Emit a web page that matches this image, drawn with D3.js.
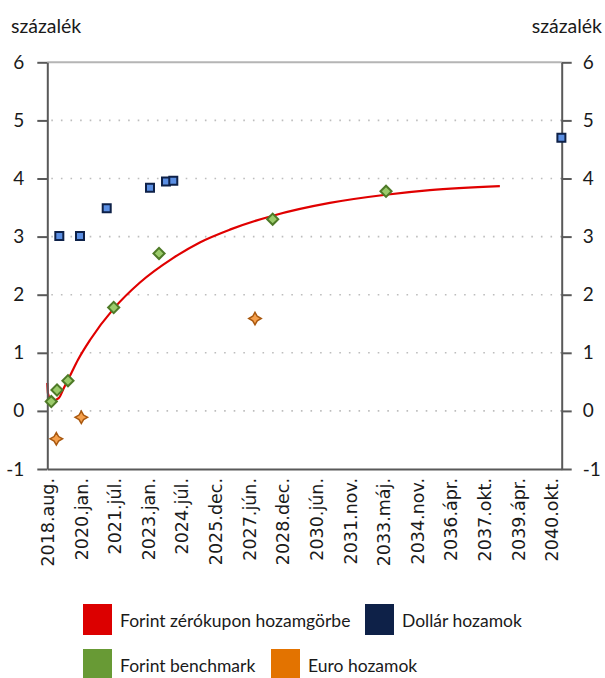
<!DOCTYPE html>
<html>
<head>
<meta charset="utf-8">
<script src="https://cdn.jsdelivr.net/npm/d3@7"></script>
<style>
  html, body { margin: 0; padding: 0; background: #fff; }
  svg { display: block; }
  .htext { font-family: Lato, "Open Sans", sans-serif; fill: #1a1a1a; }
  .xlab { font-family: "DejaVu Sans", sans-serif; fill: #1a1a1a; }
</style>
</head>
<body>
<svg id="chart" width="605" height="678"></svg>
<script>
// ---------------- DATA ----------------
const yAxisTitle = "százalék";
const yTicks = [-1, 0, 1, 2, 3, 4, 5, 6];
const xTickLabels = ["2018.aug.", "2020.jan.", "2021.júl.", "2023.jan.", "2024.júl.", "2025.dec.",
  "2027.jún.", "2028.dec.", "2030.jún.", "2031.nov.", "2033.máj.", "2034.nov.", "2036.ápr.",
  "2037.okt.", "2039.ápr.", "2040.okt."];
const xStart = "2018-08-03";
const xEnd = "2041-03-15";
const xTickStepDays = 540;

// Forint zérókupon hozamgörbe (line)
const curveDates = ["2018-08-03", "2018-08-14", "2018-10-17", "2019-02-02", "2019-04-28", "2019-08-23",
  "2019-12-09", "2020-06-19", "2021-07-04", "2022-08-30", "2024-02-11", "2025-04-17", "2026-08-12",
  "2028-07-02", "2031-01-04", "2033-06-21", "2035-05-29", "2038-06-26"];
const curveValues = [0.48, 0.30, 0.17, 0.22, 0.40, 0.65, 0.88, 1.22, 1.76, 2.21, 2.63, 2.90, 3.12,
  3.36, 3.58, 3.72, 3.80, 3.87];

// Forint benchmark (diamonds)
const benchDates = ["2018-10-06", "2019-01-06", "2019-07-01", "2021-07-04", "2023-07-02", "2028-06-30", "2033-06-24"];
const benchValues = [0.16, 0.36, 0.52, 1.78, 2.71, 3.30, 3.78];

// Dollár hozamok (squares)
const usdDates = ["2019-02-12", "2020-01-10", "2021-03-14", "2023-02-07", "2023-10-22", "2024-02-16", "2041-03-10"];
const usdValues = [3.01, 3.01, 3.49, 3.84, 3.95, 3.96, 4.70];

// Euro hozamok (4-point stars)
const eurDates = ["2018-12-26", "2020-01-31", "2027-09-20"];
const eurValues = [-0.48, -0.11, 1.59];

const legendLabels = ["Forint zérókupon hozamgörbe", "Dollár hozamok", "Forint benchmark", "Euro hozamok"];
const legendColors = ["#dc0000", "#0e2148", "#689a35", "#e37300"];

// ---------------- CHART ----------------
(function () {
const parse = d3.timeParse("%Y-%m-%d");
const svg = d3.select("#chart");

const pL = 47.3, pR = 561.7, pT = 62.3, pB = 469;
const x = d3.scaleTime().domain([parse(xStart), parse(xEnd)]).range([pL, pR]);
const y = d3.scaleLinear().domain([-1, 6]).range([pB, pT]);

const tickDates = xTickLabels.map((_, i) => d3.timeDay.offset(parse(xStart), i * xTickStepDays));

// gridlines (dotted)
svg.append("g").selectAll("line")
  .data(yTicks.filter(v => v > -1 && v < 6))
  .join("line")
  .attr("x1", pL + 4).attr("x2", pR)
  .attr("y1", d => y(d)).attr("y2", d => y(d))
  .attr("stroke", "#bdbdbd").attr("stroke-width", 1.6)
  .attr("stroke-dasharray", "1.6,8");

// top border
svg.append("line")
  .attr("x1", pL).attr("x2", pR)
  .attr("y1", y(6)).attr("y2", y(6))
  .attr("stroke", "#b5b5b5").attr("stroke-width", 2);

// line series
const line = d3.line()
  .x((d, i) => x(parse(curveDates[i])))
  .y(d => y(d))
  .curve(d3.curveMonotoneX);
svg.append("path")
  .datum(curveValues)
  .attr("d", line)
  .attr("fill", "none")
  .attr("stroke", "#e00000")
  .attr("stroke-width", 2.2);

// axes
const axisColor = "#595959";
const fmt = d => String(d);
const gL = svg.append("g").attr("transform", `translate(${pL},0)`)
  .call(d3.axisLeft(y).tickValues(yTicks).tickSize(10).tickSizeOuter(0).tickPadding(13).tickFormat(fmt));
const gR = svg.append("g").attr("transform", `translate(${pR},0)`)
  .call(d3.axisRight(y).tickValues(yTicks).tickSize(10).tickSizeOuter(0).tickPadding(11).tickFormat(fmt));
const gB = svg.append("g").attr("transform", `translate(0,${pB})`)
  .call(d3.axisBottom(x).tickValues(tickDates).tickSize(0).tickSizeOuter(0)
    .tickFormat((d, i) => xTickLabels[i]));

[gL, gR, gB].forEach(g => {
  g.attr("font-family", null).attr("font-size", null);
  g.select(".domain").attr("stroke", axisColor).attr("stroke-width", 2);
  g.selectAll(".tick line").attr("stroke", axisColor).attr("stroke-width", 2);
});
[gL, gR].forEach(g => {
  g.selectAll(".tick text").attr("class", "htext").attr("font-size", 19).attr("fill", "#1a1a1a");
});
gB.selectAll(".tick text")
  .attr("class", "xlab")
  .attr("font-size", 17.5)
  .attr("fill", "#1a1a1a")
  .attr("transform", "rotate(-90)")
  .attr("x", -9)
  .attr("y", 0)
  .attr("dy", "0.35em")
  .attr("text-anchor", "end");

// axis titles
svg.append("text").attr("class", "htext").attr("x", 11).attr("y", 33)
  .attr("font-size", 19.5).text(yAxisTitle);
svg.append("text").attr("class", "htext").attr("x", 602).attr("y", 33)
  .attr("font-size", 19.5).attr("text-anchor", "end").text(yAxisTitle);

// markers: diamonds (benchmark)
const diamond = d3.symbol().type(d3.symbolSquare).size(62);
svg.append("g").selectAll("path")
  .data(benchValues)
  .join("path")
  .attr("d", diamond)
  .attr("transform", (d, i) => `translate(${x(parse(benchDates[i]))},${y(d)}) rotate(45)`)
  .attr("fill", "#9bcb6b").attr("stroke", "#4e7a27").attr("stroke-width", 2);

// markers: squares (USD)
const square = d3.symbol().type(d3.symbolSquare).size(64);
svg.append("g").selectAll("path")
  .data(usdValues)
  .join("path")
  .attr("d", square)
  .attr("transform", (d, i) => `translate(${x(parse(usdDates[i]))},${y(d)})`)
  .attr("fill", "#5b8fe3").attr("stroke", "#0e2148").attr("stroke-width", 2);

// markers: 4-point stars (EUR)
const star4 = {
  draw(ctx, size) {
    const r = Math.sqrt(size) / 2, k = r * 0.36;
    ctx.moveTo(0, -r); ctx.lineTo(k, -k); ctx.lineTo(r, 0); ctx.lineTo(k, k);
    ctx.lineTo(0, r); ctx.lineTo(-k, k); ctx.lineTo(-r, 0); ctx.lineTo(-k, -k); ctx.closePath();
  }
};
svg.append("g").selectAll("path")
  .data(eurValues)
  .join("path")
  .attr("d", d3.symbol().type(star4).size(156))
  .attr("transform", (d, i) => `translate(${x(parse(eurDates[i]))},${y(d)})`)
  .attr("fill", "#f5a04c").attr("stroke", "#a9580f").attr("stroke-width", 1.5);

// legend
const legendPos = [[83, 604], [365, 604], [83, 649], [271, 649]];
const lg = svg.append("g").selectAll("g")
  .data(legendLabels)
  .join("g")
  .attr("transform", (d, i) => `translate(${legendPos[i][0]},${legendPos[i][1]})`);
lg.append("rect").attr("width", 29).attr("height", 31).attr("fill", (d, i) => legendColors[i]);
lg.append("text").attr("class", "htext").attr("x", 37).attr("y", 23)
  .attr("font-size", 17.5).text(d => d);
})();
</script>
</body>
</html>
